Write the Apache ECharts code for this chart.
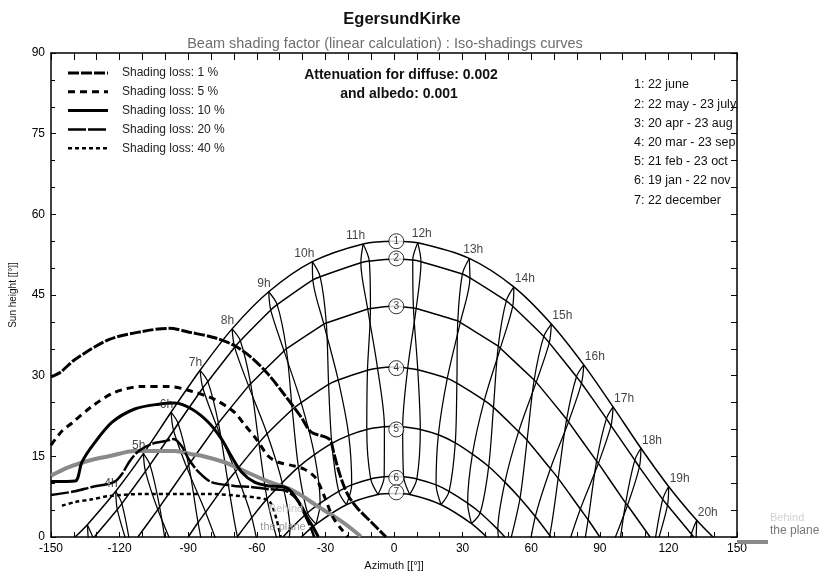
<!DOCTYPE html>
<html><head><meta charset="utf-8">
<script src="https://cdn.jsdelivr.net/npm/echarts@6/dist/echarts.min.js"></script>
<style>html,body{margin:0;padding:0;background:#fff}#c{width:824px;height:576px}</style>
</head><body><div id="c"></div>
<script>
// ---------- DATA ----------
// hours (legal time) for which sun positions [azimuth, elevation] are listed below
const HOURS = [3,4,5,6,7,8,9,10,11,12,13,14,15,16,17,18,19,20,21];
const jun22 = [[-134.1,2.3],[-121.7,8.5],[-109.6,15.5],[-97.5,23.2],[-84.8,31.0],[-70.8,38.7],[-54.8,45.6],[-35.7,51.2],[-13.5,54.5],[10.4,54.7],[32.9,51.8],[52.4,46.5],[68.8,39.6],[83.0,32.0],[95.8,24.2],[108.0,16.5],[120.1,9.4],[132.4,3.1],[145.1,-2.1]];
const may22 = [[-131.5,-0.2],[-119.0,6.2],[-106.7,13.4],[-94.4,21.1],[-81.4,28.9],[-67.2,36.5],[-51.1,43.2],[-32.3,48.4],[-10.8,51.3],[11.8,51.2],[33.2,48.2],[51.9,42.9],[67.9,36.1],[82.0,28.6],[94.9,20.7],[107.3,13.0],[119.6,5.9],[132.1,-0.5],null];
const jul23 = [[-133.6,-1.2],[-121.0,5.1],[-108.7,12.2],[-96.4,19.8],[-83.6,27.7],[-69.7,35.3],[-53.9,42.2],[-35.5,47.8],[-14.5,51.0],[8.2,51.5],[29.9,48.9],[49.1,43.9],[65.5,37.3],[79.8,29.8],[92.9,22.0],[105.3,14.3],[117.5,7.0],[130.0,0.4],[143.1,-4.9]];
const apr20 = [null,[-115.2,-1.8],[-102.5,5.6],[-89.8,13.4],[-76.8,21.2],[-62.7,28.5],[-47.1,35.0],[-29.6,39.8],[-10.3,42.5],[9.7,42.5],[29.0,39.9],[46.5,35.1],[62.2,28.8],[76.3,21.4],[89.4,13.7],[102.1,5.9],[114.8,-1.6],null,null];
const aug23 = [null,[-116.0,-2.2],[-103.3,5.1],[-90.6,12.9],[-77.6,20.7],[-63.6,28.1],[-48.1,34.6],[-30.7,39.6],[-11.5,42.4],[8.5,42.6],[27.9,40.2],[45.6,35.5],[61.3,29.2],[75.5,21.9],[88.6,14.1],[101.3,6.3],[114.0,-1.1],[127.2,-7.8],null];
const mar20 = [null,null,[-98.5,-5.2],[-85.7,2.7],[-72.7,10.4],[-59.1,17.5],[-44.5,23.7],[-28.6,28.4],[-11.6,31.0],[6.0,31.4],[23.3,29.5],[39.5,25.4],[54.5,19.6],[68.4,12.7],[81.5,5.2],[94.3,-2.7],null,null,null];
const sep23 = [null,null,[-95.2,-3.2],[-82.4,4.6],[-69.3,12.2],[-55.5,19.2],[-40.6,25.0],[-24.4,29.2],[-7.2,31.4],[10.4,31.1],[27.5,28.6],[43.5,24.1],[58.2,18.0],[71.8,10.9],[84.9,3.2],[97.6,-4.7],null,null,null];
const feb21 = [null,null,null,[-81.2,-7.4],[-68.5,0.1],[-55.5,7.1],[-41.8,13.0],[-27.2,17.4],[-11.9,20.0],[3.8,20.5],[19.4,19.0],[34.3,15.4],[48.5,10.2],[61.8,3.8],[74.6,-3.5],null,null,null,null];
const oct23 = [null,null,null,[-75.0,-3.8],[-62.2,3.6],[-48.9,10.1],[-34.8,15.3],[-19.8,18.9],[-4.2,20.5],[11.5,20.0],[26.8,17.5],[41.4,13.1],[55.1,7.2],[68.1,0.3],[80.8,-7.2],null,null,null,null];
const jan19 = [null,null,null,null,[-63.2,-7.6],[-50.8,-1.0],[-37.8,4.5],[-24.2,8.5],[-10.2,10.8],[4.2,11.2],[18.4,9.7],[32.2,6.3],[45.4,1.4],[58.1,-4.8],null,null,null,null,null];
const nov22 = [null,null,null,null,[-58.2,-4.8],[-45.5,1.4],[-32.3,6.3],[-18.5,9.7],[-4.3,11.2],[10.0,10.8],[24.1,8.5],[37.7,4.5],[50.7,-1.0],[63.1,-7.5],null,null,null,null,null];
const dec22 = [null,null,null,null,null,[-46.9,-2.7],[-34.1,2.4],[-20.8,6.0],[-7.0,7.9],[6.9,7.9],[20.6,6.0],[33.9,2.5],[46.7,-2.6],null,null,null,null,null,null];

// sunrise / sunset azimuth (+/-) and noon height of the 7 date curves
const horizonAz = [139.5, 131.1, 112.0, 90.0, 68.6, 48.5, 40.5];
const noonEl    = [55.0, 51.7, 42.9, 31.6, 20.6, 11.3, 8.1];
const circleEl  = [55.0, 51.8, 42.9, 31.4, 20.0, 11.0, 8.3];
const circleAz  = 1.0;
const dateLabels = ['1: 22 june','2: 22 may - 23 july','3: 20 apr - 23 aug','4: 20 mar - 23 sep','5: 21 feb - 23 oct','6: 19 jan - 22 nov','7: 22 december'];
const labelHours = [4,5,6,7,8,9,10,11,12,13,14,15,16,17,18,19,20];

// iso-shading curves
const lossNames = ['Shading loss: 1 %','Shading loss: 5 %','Shading loss: 10 %','Shading loss: 20 %','Shading loss: 40 %'];
const loss1  = [[-150,29.8],[-146,30.6],[-139.5,33.0],[-124.7,36.7],[-110.3,38.2],[-98.5,38.8],[-88.5,38.0],[-78,37.0],[-69.8,35.6],[-62.4,33.4],[-54.9,30.2],[-48.0,26.5],[-40.6,22.3],[-36.2,19.5],[-28.3,18.2],[-26.2,15.4],[-24.4,12.6],[-22.2,9.8],[-19.6,7.4],[-15.7,5.2],[-10.0,2.8],[-3.5,0]];
const loss5  = [[-150,17.1],[-145.2,19.7],[-140.8,21.2],[-132.1,24.3],[-122.1,26.9],[-110.3,28.0],[-98.5,28.0],[-88.5,27.1],[-78.5,25.6],[-69.8,23.2],[-65.4,20.9],[-60.2,18.2],[-54.9,15.0],[-50.6,13.9],[-43.6,13.2],[-39.2,12.6],[-34.9,11.3],[-32.7,9.8],[-30.5,7.6],[-28.3,5.2],[-26.2,3.3],[-23.1,1.5],[-20.1,0]];
const loss10 = [[-150,10.3],[-139.5,10.4],[-136.5,13.9],[-131.3,17.3],[-123.4,21.3],[-113.4,23.8],[-102.9,24.7],[-95.9,24.9],[-88.5,23.8],[-81.1,21.3],[-75.4,18.2],[-71.1,15.0],[-66.7,12.1],[-61.0,10.2],[-54.9,9.5],[-48.0,9.3],[-44.9,8.4],[-40.6,5.8],[-37.5,3.3],[-34.9,1.5],[-33.1,0]];
const loss20 = [[-150,7.8],[-139.5,8.5],[-132.1,9.3],[-122.5,10.2],[-119.0,11.7],[-115.6,14.1],[-111.6,16.0],[-106.0,17.3],[-100.3,17.8],[-96.4,18.2],[-92.9,16.9],[-89.8,14.5],[-85.5,12.1],[-79.8,10.2],[-69.8,9.5],[-62.4,9.3],[-54.9,8.9],[-48.0,8.7],[-42.7,7.1],[-39.2,4.3],[-36.2,1.5],[-34.9,0]];
const loss40 = [[-145.2,5.8],[-139.5,6.5],[-132.1,7.0],[-124.7,7.6],[-110,8.0],[-95,8.0],[-80,8.0],[-66.7,7.6],[-60,7.3],[-54.9,6.8],[-53,5.5],[-51.5,3.5],[-50.6,2.0],[-49.5,0]];
const behindPlane = [[-150,11.4],[-142.2,13.0],[-130.8,14.5],[-124.7,15.0],[-113.4,16.0],[-95.9,16.0],[-88.5,15.4],[-84.2,15.1],[-74.1,13.9],[-69.8,13.1],[-54.9,10.3],[-46,9.0],[-40,7.6],[-33,5.6],[-26,3.8],[-20,2.0],[-14.5,0.1]];

// ---------- BUILD ----------
const FONT = '"Liberation Sans", Arial, sans-serif';
const dateGroups = [[jun22],[may22,jul23],[apr20,aug23],[mar20,sep23],[feb21,oct23],[jan19,nov22],[dec22]];
const branchA = [jun22, jul23, aug23, sep23, oct23, nov22, dec22];
const branchB = [jun22, may22, apr20, mar20, feb21, jan19, dec22];

const series = [];
// date curves
dateGroups.forEach((grp, i) => {
  let pts = [];
  grp.forEach(arr => arr.forEach(p => { if (p && p[1] > 0.6) pts.push(p); }));
  pts.push([-horizonAz[i], 0], [horizonAz[i], 0], [0, noonEl[i]]);
  pts.sort((a, b) => a[0] - b[0]);
  series.push({type:'line', data: pts, smooth: 0.3, symbol:'none', silent:true, z:2,
    lineStyle:{color:'#000', width:1.5}});
});
// hour lines (two branches of the analemma per hour)
HOURS.forEach((h, idx) => {
  [branchA, branchB].forEach(br => {
    const pts = [];
    for (const d of br) { const p = d[idx]; if (!p) continue; pts.push(p); if (p[1] < 0) break; }
    if (pts.length < 2 || pts[0][1] < 0) return;
    series.push({type:'line', data: pts, smooth: 0.3, symbol:'none', silent:true, z:2,
      lineStyle:{color:'#000', width:1.25}});
  });
});
// behind the plane
series.push({type:'line', name:'Behind the plane', data: behindPlane, smooth:0.3, symbol:'none', silent:true, z:3,
  lineStyle:{color:'#8a8a8a', width:4}});
// iso-shading curves
const lossData = [loss1, loss5, loss10, loss20, loss40];
const lossStyle = [
  {width:3, type:[11,2]},
  {width:3, type:[7,5]},
  {width:3, type:'solid'},
  {width:2.5, type:[18,2]},
  {width:2.5, type:[4,3]}
];
lossData.forEach((d, i) => {
  series.push({type:'line', name: lossNames[i], data: d, smooth:0.3, symbol:'none', silent:true, z:4,
    lineStyle:Object.assign({color:'#000'}, lossStyle[i])});
});
// hour labels
series.push({type:'scatter', silent:true, z:6, symbolSize:0,
  data: labelHours.map(h => {
    const p = jun22[HOURS.indexOf(h)];
    const morning = h < 12, noon = (h === 12 || h === 13);
    return {value: p, label:{show:true, formatter: h + 'h', position:'top', distance:5,
      align: morning ? 'right' : (noon ? 'center' : 'left'),
      offset: morning ? [2, 3] : (noon ? [4, 2] : [1, 3])}};
  }),
  label:{color:'#111', fontSize:12, fontFamily:FONT}
});
// circled numbers
series.push({type:'scatter', silent:true, z:7, symbol:'circle', symbolSize:15,
  itemStyle:{color:'#fff', borderColor:'#000', borderWidth:1},
  data: circleEl.map((e, i) => ({value:[circleAz, e], label:{formatter: String(i + 1)}})),
  label:{show:true, position:'inside', color:'#000', fontSize:10, fontFamily:FONT}
});

const txt = (x, y, text, o) => ({type:'text', x, y, silent:true, z:10,
  style: Object.assign({text, fill:'#111', fontSize:12, fontFamily:FONT,
    textAlign:'left', textVerticalAlign:'middle', align:'left', verticalAlign:'middle'}, o || {})});

const graphic = [
  txt(402, 19, 'EgersundKirke', {fontSize:16.5, fontWeight:'bold', textAlign:'center', align:'center'}),
  txt(385, 44, 'Beam shading factor (linear calculation) : Iso-shadings curves', {fontSize:14.5, fill:'#6e6e6e', textAlign:'center', align:'center'}),
  txt(401, 75, 'Attenuation for diffuse: 0.002', {fontSize:14, fontWeight:'bold', textAlign:'center', align:'center'}),
  txt(399, 94, 'and albedo: 0.001', {fontSize:14, fontWeight:'bold', textAlign:'center', align:'center'}),
  txt(286, 509, 'Behind', {fontSize:11, fill:'#c4c4c4', textAlign:'center', align:'center'}),
  txt(283, 527, 'the plane', {fontSize:11, fill:'#9a9a9a', textAlign:'center', align:'center'}),
  txt(770, 518, 'Behind', {fontSize:11, fill:'#d2d2d2'}),
  txt(770, 531, 'the plane', {fontSize:12, fill:'#777'}),
  {type:'line', silent:true, z:10, shape:{x1:737, y1:542, x2:768, y2:542}, style:{stroke:'#8a8a8a', lineWidth:4}}
];
dateLabels.forEach((t, i) => graphic.push(txt(634, 85 + i * 19.2, t, {fontSize:12.5})));
// loss legend (line sample + text)
lossNames.forEach((n, i) => {
  const y = 73 + i * 18.8;
  graphic.push({type:'line', silent:true, z:10, shape:{x1:68, y1:y, x2:108, y2:y},
    style:{stroke:'#000', lineWidth:lossStyle[i].width,
      lineDash: Array.isArray(lossStyle[i].type) ? lossStyle[i].type : null}});
  graphic.push(txt(122, y, n, {fontSize:12, fill:'#222'}));
});

const axisCommon = {axisLine:{show:true, onZero:false, lineStyle:{color:'#000', width:1.5}},
  splitLine:{show:false}, minorSplitLine:{show:false}};

const option = {
  animation:false,
  backgroundColor:'#fff',
  grid:{left:49, right:87, top:53, bottom:38, containLabel:false},
  xAxis:[
    Object.assign({type:'value', min:-150, max:150, interval:30, position:'bottom',
      axisTick:{show:true, inside:true, length:5, lineStyle:{color:'#000'}},
      minorTick:{show:true, splitNumber:3, length:5, lineStyle:{color:'#000'}},
      axisLabel:{color:'#000', fontSize:12, margin:6, fontFamily:FONT},
      name:'Azimuth [[°]]', nameLocation:'middle', nameGap:23,
      nameTextStyle:{fontSize:11, color:'#111', fontFamily:FONT}}, axisCommon),
    Object.assign({type:'value', min:-150, max:150, interval:10, position:'top',
      axisTick:{show:true, inside:true, length:7, lineStyle:{color:'#000'}},
      axisLabel:{show:false}}, axisCommon)
  ],
  yAxis:[
    Object.assign({type:'value', min:0, max:90, interval:15, position:'left',
      axisTick:{show:true, inside:true, length:5, lineStyle:{color:'#000'}},
      minorTick:{show:true, splitNumber:3, length:4, lineStyle:{color:'#000'}},
      axisLabel:{color:'#000', fontSize:12, margin:6, fontFamily:FONT},
      name:'Sun height [[°]]', nameLocation:'middle', nameGap:33, nameRotate:90,
      nameTextStyle:{fontSize:10, color:'#111', fontFamily:FONT}}, axisCommon),
    Object.assign({type:'value', min:0, max:90, interval:5, position:'right',
      axisTick:{show:true, inside:true, length:6, lineStyle:{color:'#000'}},
      axisLabel:{show:false}}, axisCommon)
  ],
  graphic: graphic,
  series: series
};
const chart = echarts.init(document.getElementById('c'), null, {renderer:'canvas'});
chart.setOption(option);
</script></body></html>
